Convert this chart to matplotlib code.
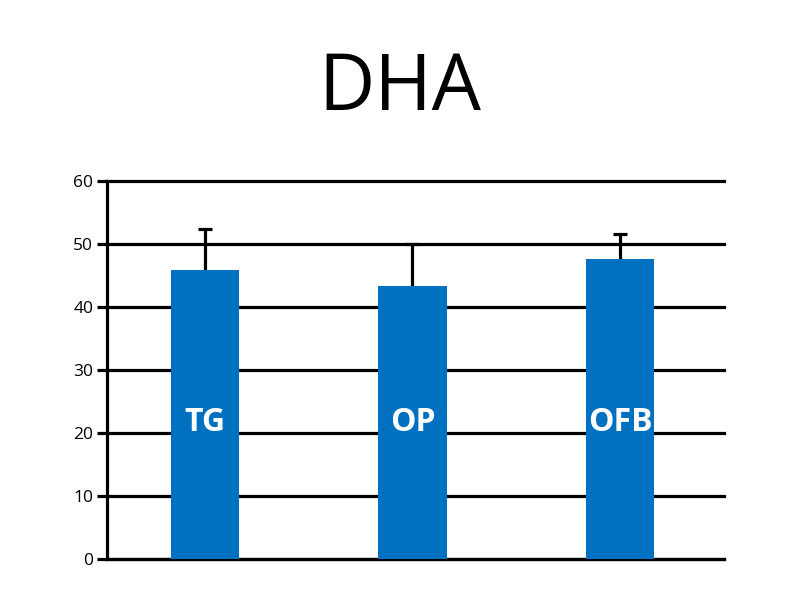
import matplotlib
matplotlib.use('Agg')
import matplotlib.pyplot as plt

categories = ['TG', 'OP', 'OFB']
means = [45.9, 43.3, 47.6]
errors = [6.5, 6.7, 4.0]
ticks = [0, 10, 20, 30, 40, 50, 60]

plt.rcParams['font.family'] = ['Open Sans', 'DejaVu Sans']

fig = plt.figure(figsize=(8, 6), dpi=100)
ax = fig.add_axes([0.134, 0.068, 0.771, 0.63])

x = list(range(len(categories)))
lw = 2.3
ax.bar(x, means, width=0.33, color='#0070C0', zorder=3)

# upper error bars only
eb = ax.errorbar(x, means, yerr=[[0] * len(errors), errors], fmt='none',
                 ecolor='black', elinewidth=lw, capsize=5, capthick=lw, zorder=2)
for cap in eb[1]:
    if list(cap.get_ydata()) == means:
        cap.set_visible(False)

for xi, name in zip(x, categories):
    ax.text(xi, 21.7, name, color='white', fontsize=23, fontweight='bold',
            ha='center', va='center', zorder=4)

ax.set_xlim(-0.47, 2.5)
ax.set_ylim(0, 60)
ax.set_yticks(ticks)
ax.yaxis.grid(True, color='black', linewidth=lw, zorder=0)
ax.set_axisbelow(True)
for gl in ax.get_ygridlines():
    gl.set_clip_on(False)
ax.tick_params(axis='y', length=7, width=lw, labelsize=12.5, pad=3)
ax.set_xticks([])
for s in ['top', 'right']:
    ax.spines[s].set_visible(False)
ax.spines['left'].set_linewidth(lw)
ax.spines['bottom'].set_linewidth(lw)

fig.text(0.5, 0.85, 'DHA', fontsize=56, ha='center', va='center')

fig.savefig('out.png', dpi=100)
plt.close()
